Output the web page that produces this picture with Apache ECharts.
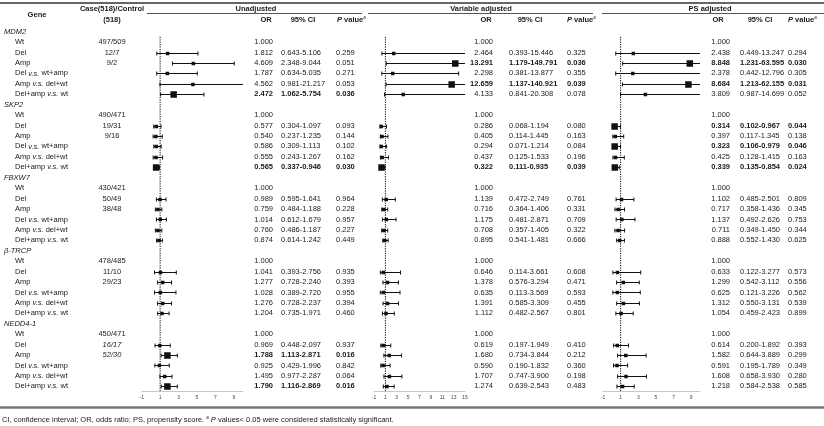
<!DOCTYPE html>
<html>
<head>
<meta charset="utf-8">
<script src="https://cdn.jsdelivr.net/npm/echarts@6/dist/echarts.min.js"></script>
<style>
  html, body { margin: 0; padding: 0; background: #fff; }
  #chart { width: 824px; height: 426px; }
</style>
</head>
<body>
<div id="chart"></div>
<script>
var FONT = '"Liberation Sans", Arial, sans-serif';
var INK = '#1a1a1a';
var FS = 7.5, LH = 9;
var ROW0 = 31.7, ROWH = 10.43; // y of first row, row pitch

var genes = ['MDM2', 'SKP2', 'FBXW7', 'β-TRCP', 'NEDD4-1'];
var comparisons = ['Wt', 'Del', 'Amp', 'Del {i|v.s.} wt+amp', 'Amp {i|v.s.} del+wt', 'Del+amp {i|v.s.} wt'];
var caseControl = [
  ['497/509', '12/7', '9/2'],
  ['490/471', '19/31', '9/16'],
  ['430/421', '50/49', '38/48'],
  ['478/485', '11/10', '29/23'],
  ['450/471', '16/17', '52/30']
];
var caseControlItalic = [
  [0, 0, 0], [0, 0, 0], [0, 0, 0], [0, 0, 0], [0, 1, 1]
];

// rows: Del, Amp, Del vs wt+amp, Amp vs del+wt, Del+amp vs wt
var unadjOR = [
  [1.812, 4.609, 1.787, 4.562, 2.472],
  [0.577, 0.540, 0.586, 0.555, 0.565],
  [0.989, 0.759, 1.014, 0.760, 0.874],
  [1.041, 1.277, 1.028, 1.276, 1.204],
  [0.969, 1.788, 0.925, 1.495, 1.790]
];
var unadjLo = [
  [0.643, 2.348, 0.634, 0.981, 1.062],
  [0.304, 0.237, 0.309, 0.243, 0.337],
  [0.595, 0.484, 0.612, 0.486, 0.614],
  [0.393, 0.728, 0.389, 0.728, 0.735],
  [0.448, 1.113, 0.429, 0.977, 1.116]
];
var unadjHi = [
  [5.106, 9.044, 5.035, 21.217, 5.754],
  [1.097, 1.235, 1.113, 1.267, 0.946],
  [1.641, 1.188, 1.679, 1.187, 1.242],
  [2.756, 2.240, 2.720, 2.237, 1.971],
  [2.097, 2.871, 1.996, 2.287, 2.869]
];
var unadjP = [
  [0.259, 0.051, 0.271, 0.053, 0.036],
  [0.093, 0.144, 0.102, 0.162, 0.030],
  [0.964, 0.228, 0.957, 0.227, 0.449],
  [0.935, 0.393, 0.955, 0.394, 0.460],
  [0.937, 0.016, 0.842, 0.064, 0.016]
];

var varOR = [
  [2.464, 13.291, 2.298, 12.659, 4.133],
  [0.286, 0.405, 0.294, 0.437, 0.322],
  [1.139, 0.716, 1.175, 0.708, 0.895],
  [0.646, 1.378, 0.635, 1.391, 1.112],
  [0.619, 1.680, 0.590, 1.707, 1.274]
];
var varLo = [
  [0.393, 1.179, 0.381, 1.137, 0.841],
  [0.068, 0.114, 0.071, 0.125, 0.111],
  [0.472, 0.364, 0.481, 0.357, 0.541],
  [0.114, 0.576, 0.113, 0.585, 0.482],
  [0.197, 0.734, 0.190, 0.747, 0.639]
];
var varHi = [
  [15.446, 149.791, 13.877, 140.921, 20.308],
  [1.194, 1.445, 1.214, 1.533, 0.935],
  [2.749, 1.406, 2.871, 1.405, 1.481],
  [3.661, 3.294, 3.569, 3.309, 2.567],
  [1.949, 3.844, 1.832, 3.900, 2.543]
];
var varP = [
  [0.325, 0.036, 0.355, 0.039, 0.078],
  [0.080, 0.163, 0.084, 0.196, 0.039],
  [0.761, 0.331, 0.709, 0.322, 0.666],
  [0.608, 0.471, 0.593, 0.455, 0.801],
  [0.410, 0.212, 0.360, 0.198, 0.483]
];

var psOR = [
  [2.438, 8.848, 2.378, 8.684, 3.809],
  [0.314, 0.397, 0.323, 0.425, 0.339],
  [1.102, 0.717, 1.137, 0.711, 0.888],
  [0.633, 1.299, 0.625, 1.312, 1.054],
  [0.614, 1.582, 0.591, 1.608, 1.218]
];
var psLo = [
  [0.449, 1.231, 0.442, 1.213, 0.987],
  [0.102, 0.117, 0.106, 0.128, 0.135],
  [0.485, 0.358, 0.492, 0.349, 0.552],
  [0.122, 0.542, 0.121, 0.550, 0.459],
  [0.200, 0.644, 0.195, 0.658, 0.584]
];
var psHi = [
  [13.247, 63.595, 12.796, 62.155, 14.699],
  [0.967, 1.345, 0.979, 1.415, 0.854],
  [2.501, 1.436, 2.626, 1.450, 1.430],
  [3.277, 3.112, 3.226, 3.131, 2.423],
  [1.892, 3.889, 1.789, 3.930, 2.538]
];
var psP = [
  [0.294, 0.030, 0.305, 0.031, 0.052],
  [0.044, 0.138, 0.046, 0.163, 0.024],
  [0.809, 0.345, 0.753, 0.344, 0.625],
  [0.573, 0.556, 0.562, 0.539, 0.899],
  [0.393, 0.299, 0.349, 0.280, 0.585]
];

var models = [
  { or: unadjOR, lo: unadjLo, hi: unadjHi, p: unadjP },
  { or: varOR, lo: varLo, hi: varHi, p: varP },
  { or: psOR, lo: psLo, hi: psHi, p: psP }
];

// layout of each block: forest grid + text columns
var blocks = [
  { left: 141.7, width: 101.3, max: 10, orX: 273, ciX: 281, pX: 336 },
  { left: 374, width: 91, max: 15, orX: 493, ciX: 509, pX: 567 },
  { left: 603, width: 97, max: 10, orX: 730, ciX: 740, pX: 788 }
];

var gridTop = ROW0 - 0.5 * ROWH;
var gridHeight = 35 * ROWH;

// table cells
var cells = [];
genes.forEach(function (g, gi) {
  var base = gi * 7;
  cells.push({ x: 4, r: base, t: g, a: 'left', it: true });
  comparisons.forEach(function (c, ci) {
    cells.push({ x: 15, r: base + 1 + ci, t: c, a: 'left' });
    if (ci < 3) {
      cells.push({ x: 112, r: base + 1 + ci, t: caseControl[gi][ci], a: 'center', it: !!caseControlItalic[gi][ci] });
    }
  });
  models.forEach(function (m, mi) {
    var b = blocks[mi];
    cells.push({ x: b.orX, r: base + 1, t: '1.000', a: 'right' });
    for (var k = 0; k < 5; k++) {
      var bold = m.p[gi][k] < 0.05;
      var r = base + 2 + k;
      cells.push({ x: b.orX, r: r, t: m.or[gi][k].toFixed(3), a: 'right', b: bold });
      cells.push({ x: b.ciX, r: r, t: m.lo[gi][k].toFixed(3) + '-' + m.hi[gi][k].toFixed(3), a: 'left', b: bold });
      cells.push({ x: b.pX, r: r, t: m.p[gi][k].toFixed(3), a: 'left', b: bold });
    }
  });
});

function forestData(m) {
  var out = [];
  genes.forEach(function (g, gi) {
    for (var k = 0; k < 5; k++) {
      out.push([gi * 7 + 2 + k, m.or[gi][k], m.lo[gi][k], m.hi[gi][k], m.p[gi][k]]);
    }
  });
  return out;
}

function forestItem(params, api) {
  var row = api.value(0);
  var cs = params.coordSys;
  var xMax = cs.x + cs.width;
  var c = api.coord([api.value(1), row]);
  var l = api.coord([api.value(2), row])[0];
  var h = api.coord([api.value(3), row])[0];
  var y = Math.round(c[1]) + 0.5;
  var hc = Math.min(h, xMax);
  var st = { stroke: '#111', lineWidth: 1 };
  var kids = [
    { type: 'line', shape: { x1: l, y1: y, x2: hc, y2: y }, style: st },
    { type: 'line', shape: { x1: l, y1: y - 2, x2: l, y2: y + 2 }, style: st }
  ];
  if (h <= xMax) {
    kids.push({ type: 'line', shape: { x1: h, y1: y - 2, x2: h, y2: y + 2 }, style: st });
  }
  var s = api.value(4) < 0.05 ? 6.5 : 3.5;
  kids.push({ type: 'rect', shape: { x: c[0] - s / 2, y: y - s / 2, width: s, height: s }, style: { fill: '#111' } });
  return { type: 'group', children: kids };
}

function cellItem(params, api) {
  var cell = cells[params.dataIndex];
  var p = api.coord([cell.x, cell.r]);
  var w = cell.b ? 'bold' : 'normal';
  var fst = cell.it ? 'italic' : 'normal';
  return {
    type: 'text',
    x: p[0],
    y: p[1],
    style: {
      text: cell.t,
      fill: INK,
      fontSize: FS,
      lineHeight: LH,
      fontFamily: FONT,
      fontWeight: w,
      fontStyle: fst,
      align: cell.a,
      verticalAlign: 'middle',
      rich: {
        i: { fontSize: FS, lineHeight: LH, fontFamily: FONT, fontWeight: w, fontStyle: 'italic', fill: INK, verticalAlign: 'middle' }
      }
    }
  };
}

var grids = [], xAxes = [], yAxes = [], series = [];
blocks.forEach(function (b, i) {
  grids.push({ left: b.left, top: gridTop, width: b.width, height: gridHeight });
  xAxes.push({
    gridIndex: i, type: 'value', min: -1, max: b.max, interval: 1,
    axisLine: { onZero: false, lineStyle: { color: '#c8c8c8', width: 1 } },
    axisTick: { show: false },
    splitLine: { show: false },
    axisLabel: {
      interval: 0, fontSize: 5, color: '#444', margin: 4, fontFamily: FONT,
      formatter: function (v) { return Math.round(v) % 2 !== 0 ? String(v) : ''; }
    }
  });
  yAxes.push({ gridIndex: i, type: 'value', min: -0.5, max: 34.5, inverse: true, show: false });
  series.push({
    type: 'line', xAxisIndex: i, yAxisIndex: i, symbol: 'none', silent: true,
    data: [[1, 0.5], [1, 34.5]],
    lineStyle: { color: '#000', width: 1, type: [1.2, 1.2] }
  });
  series.push({
    type: 'custom', xAxisIndex: i, yAxisIndex: i, clip: false, silent: true,
    renderItem: forestItem, data: forestData(models[i])
  });
});

// table grid
grids.push({ left: 0, top: gridTop, width: 824, height: gridHeight });
xAxes.push({ gridIndex: 3, type: 'value', min: 0, max: 824, show: false });
yAxes.push({ gridIndex: 3, type: 'value', min: -0.5, max: 34.5, inverse: true, show: false });
series.push({
  type: 'custom', xAxisIndex: 3, yAxisIndex: 3, clip: false, silent: true,
  renderItem: cellItem,
  data: cells.map(function (c) { return [c.x, c.r]; })
});

function hText(x, y, text, align, weight) {
  var w = weight || 'bold';
  return {
    type: 'text', x: x, y: y, silent: true,
    style: {
      text: text, fill: INK, fontSize: FS, lineHeight: LH, fontFamily: FONT, fontWeight: w,
      align: align, verticalAlign: 'middle',
      rich: {
        i: { fontSize: FS, lineHeight: LH, fontFamily: FONT, fontStyle: 'italic', fontWeight: w, fill: INK, verticalAlign: 'middle' },
        sup: { fontSize: 4.5, lineHeight: LH, fontFamily: FONT, fontStyle: 'italic', fill: INK, verticalAlign: 'top' }
      }
    }
  };
}
function hLine(x1, x2, y, w, color) {
  return { type: 'line', shape: { x1: x1, y1: y, x2: x2, y2: y }, style: { stroke: color, lineWidth: w }, silent: true };
}

var graphic = [
  hLine(0, 824, 3, 1.5, '#333'),
  hLine(147, 362, 13.5, 1, '#555'),
  hLine(368, 593, 13.5, 1, '#555'),
  hLine(602, 824, 13.5, 1, '#555'),
  hLine(0, 824, 407.5, 2.5, '#777'),
  hText(37, 15, 'Gene', 'center'),
  hText(112, 8.5, 'Case(518)/Control', 'center'),
  hText(112, 19.5, '(518)', 'center'),
  hText(256, 8.5, 'Unadjusted', 'center'),
  hText(481, 8.5, 'Variable adjusted', 'center'),
  hText(710, 8.5, 'PS adjusted', 'center'),
  hText(266, 19.5, 'OR', 'center'),
  hText(303, 19.5, '95% CI', 'center'),
  hText(337, 19.5, '{i|P} value{sup|a}', 'left'),
  hText(486, 19.5, 'OR', 'center'),
  hText(530, 19.5, '95% CI', 'center'),
  hText(567, 19.5, '{i|P} value{sup|a}', 'left'),
  hText(718, 19.5, 'OR', 'center'),
  hText(760, 19.5, '95% CI', 'center'),
  hText(788, 19.5, '{i|P} value{sup|a}', 'left'),
  hText(2, 420, 'CI, confidence interval; OR, odds ratio; PS, propensity score. {sup|a} {i|P} values< 0.05 were considered statistically significant.', 'left', 'normal')
];

var chart = echarts.init(document.getElementById('chart'));
chart.setOption({
  animation: false,
  backgroundColor: '#fff',
  grid: grids,
  xAxis: xAxes,
  yAxis: yAxes,
  series: series,
  graphic: graphic
});
</script>
</body>
</html>
